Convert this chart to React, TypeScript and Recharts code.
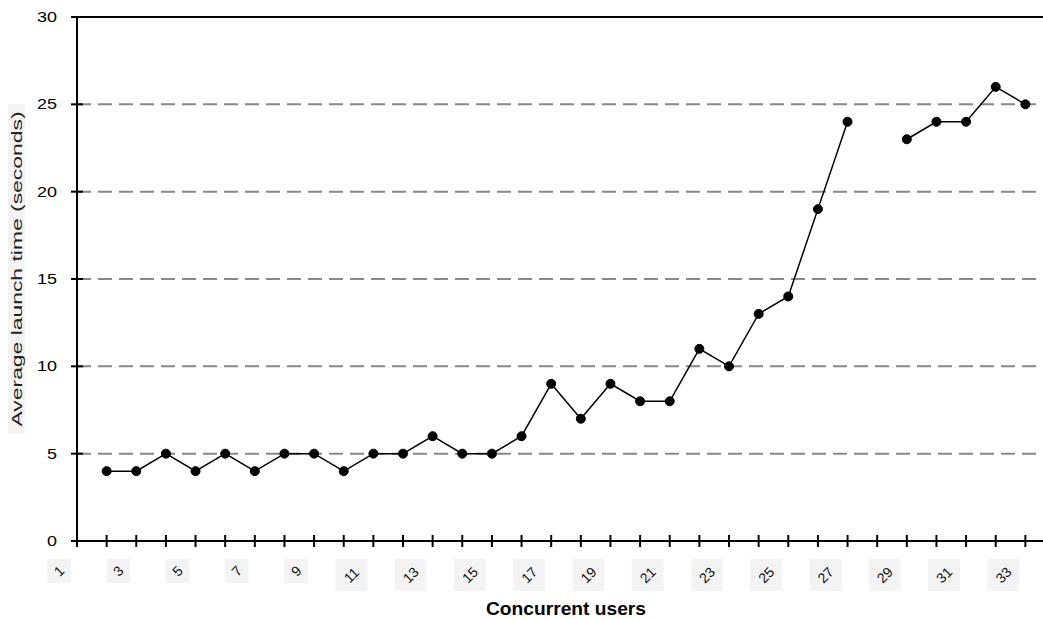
import React from 'react';
import { LineChart, Line, XAxis, YAxis, CartesianGrid, ReferenceLine, Label } from 'recharts';

const categories = [1, 2, 3, 4, 5, 6, 7, 8, 9, 10, 11, 12, 13, 14, 15, 16, 17, 18, 19, 20, 21, 22, 23, 24, 25, 26, 27, 28, 29, 30, 31, 32, 33];
const launchTimes: (number | null)[] = [null, 4, 4, 5, 4, 5, 4, 5, 5, 4, 5, 5, 6, 5, 5, 6, 9, 7, 9, 8, 8, 11, 10, 13, 14, 19, 24, null, 23, 24, 24, 26, 25];
const yTicks = [0, 5, 10, 15, 20, 25, 30];
const xTickLabels = [1, 3, 5, 7, 9, 11, 13, 15, 17, 19, 21, 23, 25, 27, 29, 31, 33];
const xTitle = 'Concurrent users';
const yTitle = 'Average launch time (seconds)';

const data = categories.map((c, i) => ({ users: c, time: launchTimes[i] }));

const FONT = '"Liberation Sans", Arial, Helvetica, sans-serif';

const XTick = (props: any) => {
  const { x, y, payload } = props;
  const axisY = y - 6;
  const v = payload.value;
  const show = xTickLabels.includes(v);
  const s = String(v).length === 1 ? 24 : 32;
  const cx = x - 6 - s / 2;
  const cy = axisY + 18 + s / 2;
  return (
    <g>
      <line x1={x} x2={x} y1={axisY - 6} y2={axisY + 6} stroke="#000" strokeWidth={2} />
      {show && (
        <g>
          <rect x={x - 6 - s} y={axisY + 18} width={s} height={s} fill="#f3f3f3" />
          <g transform={`translate(${cx} ${cy}) rotate(-45)`}>
            <text
              x={0}
              y={5}
              textAnchor="middle"
              fontSize={14}
              fill="#111"
              fontFamily={FONT}
            >
              {v}
            </text>
          </g>
        </g>
      )}
    </g>
  );
};

const YTick = (props: any) => {
  const { x, y, payload } = props;
  const axisX = x + 6 + 14;
  const str = String(payload.value);
  return (
    <g>
      <line x1={axisX - 6} x2={axisX + 6} y1={y} y2={y} stroke="#000" strokeWidth={2} />
      <text
        x={x}
        y={y}
        dy={5}
        textAnchor="end"
        fontSize={14}
        fill="#000"
        fontFamily={FONT}
        textLength={str.length * 10}
        lengthAdjust="spacingAndGlyphs"
      >
        {str}
      </text>
    </g>
  );
};

const XTitle = (props: any) => {
  const vb = props.viewBox || {};
  const cx = vb.x + vb.width / 2;
  return (
    <text
      x={cx}
      y={vb.y + 74}
      textAnchor="middle"
      fontSize={18}
      fontWeight="bold"
      fill="#000"
      fontFamily={FONT}
      textLength={160}
      lengthAdjust="spacingAndGlyphs"
    >
      {xTitle}
    </text>
  );
};

const YTitle = (props: any) => {
  const vb = props.viewBox || {};
  const cy = vb.y + vb.height / 2 - 10;
  const cx = 16.5;
  return (
    <g>
      <rect x={8} y={cy - 165} width={17} height={330} fill="#f3f3f3" />
      <g transform={`translate(${cx} ${cy}) rotate(-90)`}>
        <text
          x={0}
          y={5}
          textAnchor="middle"
          fontSize={14}
          fill="#222"
          fontFamily={FONT}
          textLength={315}
          lengthAdjust="spacingAndGlyphs"
        >
          {yTitle}
        </text>
      </g>
    </g>
  );
};

export default function App() {
  return (
    <div
      style={{
        position: 'absolute',
        left: 0,
        top: 0,
        width: 1043,
        height: 619,
        overflow: 'hidden',
        background: '#fff',
      }}
    >
      <LineChart width={1075} height={619} data={data} margin={{ top: 17, right: 20, bottom: 0, left: 0 }}>
        <CartesianGrid vertical={false} stroke="#888" strokeWidth={2} strokeDasharray="14 7" />
        <ReferenceLine y={30} stroke="#000" strokeWidth={2} />
        <XAxis
          dataKey="users"
          type="number"
          domain={[1, 34]}
          ticks={categories}
          interval={0}
          height={78}
          tickSize={6}
          tickMargin={0}
          tickLine={false}
          axisLine={{ stroke: '#000', strokeWidth: 2 }}
          tick={<XTick />}
        >
          <Label content={<XTitle />} />
        </XAxis>
        <YAxis
          domain={[0, 30]}
          ticks={yTicks}
          interval={0}
          width={77}
          tickSize={6}
          tickMargin={14}
          tickLine={false}
          axisLine={{ stroke: '#000', strokeWidth: 2 }}
          tick={<YTick />}
        >
          <Label content={<YTitle />} />
        </YAxis>
        <Line
          type="linear"
          dataKey="time"
          stroke="#000"
          strokeWidth={1.5}
          dot={{ r: 4.5, fill: '#000', stroke: '#000', strokeWidth: 1 }}
          activeDot={false}
          connectNulls={false}
          isAnimationActive={false}
        />
      </LineChart>
    </div>
  );
}
